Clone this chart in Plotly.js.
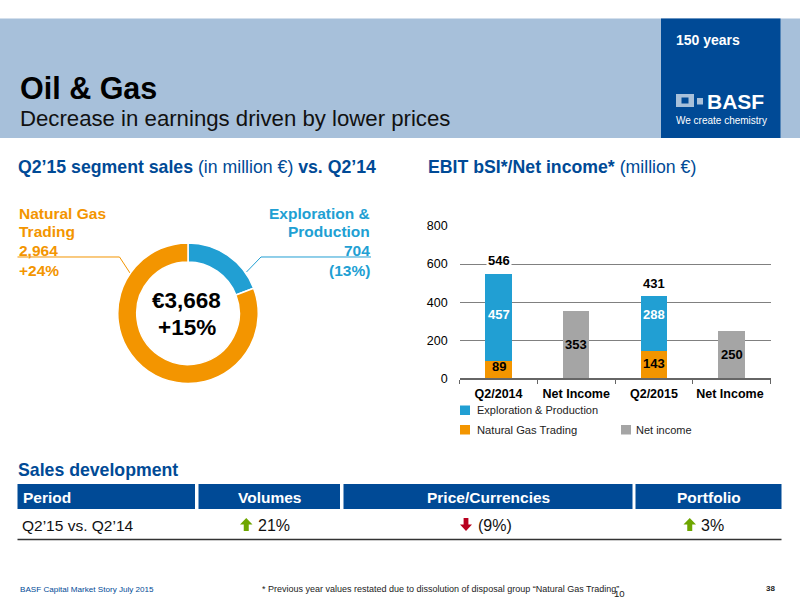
<!DOCTYPE html>
<html><head><meta charset="utf-8">
<script src="https://cdn.plot.ly/plotly-3.0.1.min.js"></script>
<style>html,body{margin:0;padding:0;background:#fff}#c{width:800px;height:600px}</style></head>
<body><div id="c"></div>
<script>
// ---- data ----
const categories = ["Q2/2014", "Net Income", "Q2/2015", "Net Income "];
const explorationProduction = [457, null, 288, null];
const naturalGasTrading = [89, null, 143, null];
const netIncome = [null, 353, null, 250];
const totals = [546, null, 431, null];
const donutLabels = ["Exploration & Production", "Natural Gas Trading"];
const donutValues = [704, 2964];
const yTicks = [0, 200, 400, 600, 800];
const tableHeaders = ["Period", "Volumes", "Price/Currencies", "Portfolio"];
const tableRow = ["Q2’15 vs. Q2’14", "21%", "(9%)", "3%"];

// ---- styling ----
const FONT = "Liberation Sans, Arial, sans-serif";
const BLUE = "#004a96", CYAN = "#219fd3", ORANGE = "#f39500", GRAY = "#a5a5a5", HEAD = "#a7c0da";
const px = x => x / 800, py = y => 1 - y / 600;

const shapes = [], annotations = [];
function rect(x0, y0, x1, y1, color) {
  shapes.push({type:"rect", xref:"paper", yref:"paper", x0:px(x0), x1:px(x1), y0:py(y1), y1:py(y0),
    fillcolor:color, line:{width:0}, layer:"below"});
}
function poly(points, opts) {
  const d = points.map((p,i) => (i ? "L" : "M") + px(p[0]).toFixed(5) + " " + py(p[1]).toFixed(5)).join(" ");
  shapes.push(Object.assign({type:"path", xref:"paper", yref:"paper", path:d, layer:"below"}, opts));
}
function text(t, x, y, size, color, anchor, extra) {
  annotations.push(Object.assign({text:t, xref:"paper", yref:"paper", x:px(x), y:py(y), showarrow:false,
    xanchor:anchor || "left", yanchor:"middle", font:{family:FONT, size:size, color:color}, borderpad:0, borderwidth:0}, extra||{}));
}
function arrow(x0, x1, y0, y1, up, color) {
  const xm = (x0+x1)/2, w = (x1-x0)*0.2, head = (y1-y0)*0.5;
  const pts = up
    ? [[xm,y0],[x1,y0+head],[xm+w,y0+head],[xm+w,y1],[xm-w,y1],[xm-w,y0+head],[x0,y0+head]]
    : [[xm,y1],[x1,y1-head],[xm+w,y1-head],[xm+w,y0],[xm-w,y0],[xm-w,y1-head],[x0,y1-head]];
  poly(pts.concat([pts[0]]), {fillcolor:color, line:{width:0}});
}

// header band
rect(0, 18.5, 800, 138, HEAD);
rect(661, 18.5, 780.5, 138, BLUE);
text("<b>150 years</b>", 676, 40, 14, "#fff");
rect(676, 94, 694, 107, "#a7c0da");
rect(681.5, 97.5, 688.5, 103.5, BLUE);
rect(697, 98, 703, 104.5, "#a7c0da");
text("<b>BASF</b>", 707, 101, 21, "#fff");
text("We create chemistry", 676, 120.5, 10, "#fff");
text("<b>Oil &amp; Gas</b>", 20, 88, 30.5, "#000");
text("Decrease in earnings driven by lower prices", 20, 118.5, 22.2, "#111");

// section titles
text("<b>Q2’15 segment sales</b> (in million €) <b>vs. Q2’14</b>", 18, 167, 17.7, BLUE);
text("<b>EBIT bSI*/Net income*</b> (million €)", 428, 167, 17.7, BLUE);

// donut callouts
[["<b>Natural Gas</b>",213],["<b>Trading</b>",231],["<b>2,964</b>",250],["<b>+24%</b>",270]]
  .forEach(r => text(r[0], 19, r[1], 15.5, ORANGE));
[["<b>Exploration &amp;</b>",213],["<b>Production</b>",231],["<b>704</b>",250],["<b>(13%)</b>",270]]
  .forEach(r => text(r[0], 370, r[1], 15.5, CYAN, "right"));
poly([[17.5,257],[119.5,257],[130,273]], {line:{color:ORANGE,width:1}});
poly([[371,257],[261,257],[246.5,272]], {line:{color:CYAN,width:1}});
text("<b>€3,668</b>", 186.5, 300.5, 22.5, "#000", "center");
text("<b>+15%</b>", 186.5, 327, 22.5, "#000", "center");

// chart legend
rect(460, 405.5, 470, 415, CYAN);
rect(460, 425, 470, 434.5, ORANGE);
rect(621, 425, 631, 434.5, GRAY);
text("Exploration &amp; Production", 477, 410, 11, "#222");
text("Natural Gas Trading", 477, 430, 11.2, "#222");
text("Net income", 636, 430, 11, "#222");

// sales table
text("<b>Sales development</b>", 18, 470, 17.7, BLUE);
[[17.5,195],[198.5,340],[343.5,632.5],[635.5,781.5]].forEach(c => rect(c[0], 484, c[1], 509, BLUE));
text("<b>"+tableHeaders[0]+"</b>", 23, 497, 15.5, "#fff");
text("<b>"+tableHeaders[1]+"</b>", 269.5, 497, 15.5, "#fff", "center");
text("<b>"+tableHeaders[2]+"</b>", 488.5, 497, 15.5, "#fff", "center");
text("<b>"+tableHeaders[3]+"</b>", 708.5, 497, 15.5, "#fff", "center");
text(tableRow[0], 22, 525.5, 15.5, "#111");
text(tableRow[1], 258, 525.5, 16, "#111");
text(tableRow[2], 478, 525.5, 16, "#111");
text(tableRow[3], 700.5, 525.5, 16, "#111");
arrow(240, 252.5, 518, 531, true, "#6ea600");
arrow(460, 472, 518, 531, false, "#b8001f");
arrow(683.5, 696, 518, 531, true, "#6ea600");
poly([[17.5,539.5],[781.5,539.5]], {line:{color:"#333",width:1.5}});

// footer
text("BASF Capital Market Story July 2015", 20, 589, 8.1, BLUE);
text("* Previous year values restated due to dissolution of disposal group “Natural Gas Trading”", 262, 589, 9, "#222");
text("10", 614, 593, 9.6, "#222");
text("<b>38</b>", 766, 588, 8, "#222");

// bar value labels
const yPx0 = 378.3, yPx800 = 226;
function barLabel(i, v, yValue, color, shift, bg) {
  const a = {text:"<b>"+v+"</b>", xref:"x", yref:"y", x:categories[i], y:yValue, yshift:shift, showarrow:false,
    xanchor:"center", yanchor:"middle", font:{family:FONT, size:13, color:color}, borderpad:1};
  if (bg) a.bgcolor = bg;
  annotations.push(a);
}
totals.forEach((t,i) => { if (t !== null) barLabel(i, t, t, "#000", i === 0 ? 14 : 13, "#fff"); });
barLabel(0, explorationProduction[0], naturalGasTrading[0] + explorationProduction[0]/2, "#fff", 3);
barLabel(2, explorationProduction[2], naturalGasTrading[2] + explorationProduction[2]/2, "#fff", 9);
barLabel(0, naturalGasTrading[0], naturalGasTrading[0]/2, "#000", 3);
barLabel(2, naturalGasTrading[2], naturalGasTrading[2]/2, "#000", 1);
barLabel(1, netIncome[1], netIncome[1]/2, "#000", 0);
barLabel(3, netIncome[3], netIncome[3]/2, "#000", 0);

const traces = [
  {type:"bar", name:"Natural Gas Trading", x:categories, y:naturalGasTrading, marker:{color:ORANGE}, width:0.34},
  {type:"bar", name:"Exploration & Production", x:categories, y:explorationProduction, marker:{color:CYAN}, width:0.34},
  {type:"bar", name:"Net income", x:categories, y:netIncome, marker:{color:GRAY}, width:0.34},
  {type:"pie", labels:donutLabels, values:donutValues, hole:0.73, sort:false, direction:"clockwise", rotation:0,
   marker:{colors:[CYAN, ORANGE], line:{color:"#fff", width:1.5}}, textinfo:"none", hoverinfo:"label+value",
   domain:{x:[px(117.5), px(258.5)], y:[py(383.5), py(243)]}, showlegend:false}
];

const layout = {
  width:800, height:600, margin:{l:0,r:0,t:0,b:0}, paper_bgcolor:"#fff", plot_bgcolor:"rgba(0,0,0,0)",
  barmode:"stack", showlegend:false, font:{family:FONT},
  xaxis:{domain:[px(459.7), px(770.5)], type:"category", categoryorder:"array", categoryarray:categories,
    tickson:"boundaries", ticks:"outside", ticklen:4, tickcolor:"#666", tickwidth:1, ticklabelstandoff:3,
    showline:true, linecolor:"#666", linewidth:1.5, showgrid:false, zeroline:false,
    tickfont:{family:FONT, size:12.5, color:"#000", weight:"bold"}, automargin:false, tickangle:0},
  yaxis:{domain:[py(yPx0), py(yPx800)], range:[0,800], tickmode:"array", tickvals:yTicks,
    ticktext:yTicks.map(String), ticks:"", ticklabelstandoff:11, showgrid:true, gridcolor:"#808080", gridwidth:1.2,
    zeroline:false, showline:false, tickfont:{family:FONT, size:12.5, color:"#000"}, automargin:false},
  shapes, annotations
};
Plotly.newPlot("c", traces, layout, {displayModeBar:false, responsive:false});
</script></body></html>
